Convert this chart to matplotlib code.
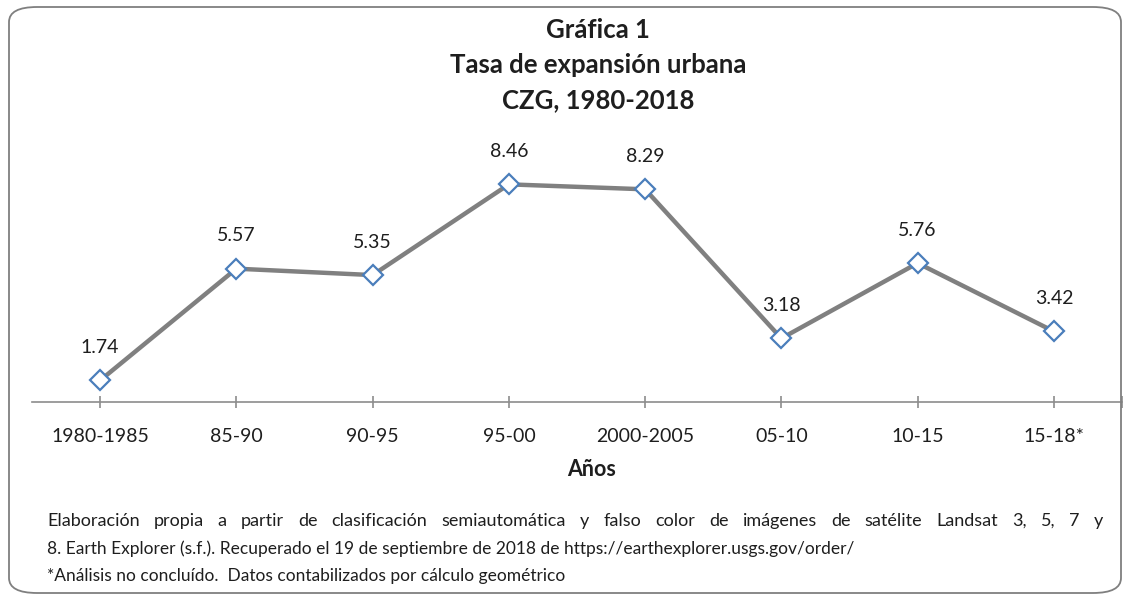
import matplotlib
matplotlib.use("Agg")
import matplotlib.pyplot as plt
from matplotlib.patches import FancyBboxPatch

categories = ["1980-1985", "85-90", "90-95", "95-00", "2000-2005", "05-10", "10-15", "15-18*"]
values = [1.74, 5.57, 5.35, 8.46, 8.29, 3.18, 5.76, 3.42]
labels = ["1.74", "5.57", "5.35", "8.46", "8.29", "3.18", "5.76", "3.42"]

title_lines = ["Gráfica 1", "Tasa de expansión urbana", "CZG, 1980-2018"]
xlabel = "Años"
note_line1 = ("Elaboración propia a partir de clasificación semiautomática y falso color "
              "de imágenes de satélite Landsat 3, 5, 7 y")
notes_rest = [
    "8. Earth Explorer (s.f.). Recuperado el 19 de septiembre de 2018 de https://earthexplorer.usgs.gov/order/",
    "*Análisis no concluído.  Datos contabilizados por cálculo geométrico",
]

plt.rcParams['font.family'] = ['Lato', 'DejaVu Sans']
TXT = "#1e1e1e"

W, H = 1128, 599
fig = plt.figure(figsize=(W / 100, H / 100), dpi=100)

# rounded border
border = FancyBboxPatch((9 / W, 6 / H), (1121 - 9) / W, (592 - 6) / H,
                        boxstyle="round,pad=0,rounding_size=0.025",
                        transform=fig.transFigure, facecolor="none",
                        edgecolor="#7f7f7f", linewidth=1.3, zorder=0)
fig.patches.append(border)

ax = fig.add_axes([32 / W, 1 - 402 / H, (1122 - 32) / W, (402 - 168.6) / H])
ax.set_facecolor("none")
x = list(range(len(categories)))
ax.plot(x, values, color="#808080", linewidth=3.2, marker="D", markersize=10.5,
        markerfacecolor="white", markeredgecolor="#4a7ebb", markeredgewidth=1.6,
        zorder=3, clip_on=False)
for xi, v, lab in zip(x, values, labels):
    ax.annotate(lab, (xi, v), xytext=(0, 33), textcoords="offset pixels",
                ha="center", va="center", fontsize=14, color=TXT)

ax.set_xlim(-0.5, len(categories) - 0.5)
ax.set_ylim(1, 9)
ax.set_yticks([])
for s in ["top", "right", "left"]:
    ax.spines[s].set_visible(False)
ax.spines["bottom"].set_color("#8c8c8c")
ax.spines["bottom"].set_linewidth(1.2)
ax.set_xticks(x)
ax.set_xticklabels(categories, fontsize=14, color=TXT)
ax.set_xticks([len(categories) - 0.5], minor=True)
ax.tick_params(axis="x", which="both", direction="inout", length=9, width=1.2,
               color="#8c8c8c", pad=14)
ax.set_xlabel(xlabel, fontsize=15.5, fontweight="bold", labelpad=10, color=TXT)
ax.xaxis.label.set_x((592 - 32) / (1122 - 32))

for i, t in enumerate(title_lines):
    fig.text(598 / W, 1 - (30 + 35 * i) / H, t, ha="center", va="center",
             fontsize=18.5, fontweight="bold", color=TXT)

# first footnote line: justified between x=47 and x=1103
fig.canvas.draw()
renderer = fig.canvas.get_renderer()
words = note_line1.split(" ")
x_left, x_right = 47, 1103
y1 = 1 - 521 / H
wtexts = [fig.text(0, y1, w, ha="left", va="center", fontsize=13, color=TXT)
          for w in words]
widths = [t.get_window_extent(renderer).width for t in wtexts]
gap = (x_right - x_left - sum(widths)) / (len(words) - 1)
cx = x_left
for t, wd in zip(wtexts, widths):
    t.set_x(cx / W)
    cx += wd + gap

for i, t in enumerate(notes_rest):
    fig.text(47 / W, 1 - (549 + 27.5 * i) / H, t, ha="left", va="center",
             fontsize=12.5, color=TXT)

fig.savefig("out.png", dpi=100)
